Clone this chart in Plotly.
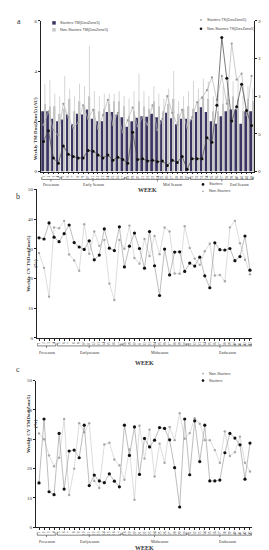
import plotly.graph_objects as go

W, H = 269, 550
weeks = list(range(1, 44))
week_labels = [str(w) for w in weeks]

# Panel a
starters_tm = [2.4, 2.4, 2.1, 2.0, 2.07, 2.27, 1.88, 2.3, 2.27, 2.47, 2.1, 2.0, 2.0, 2.37, 2.37, 2.27, 2.16,
               1.78, 2.0, 2.14, 2.2, 2.18, 2.3, 2.16, 2.04, 2.34, 2.12, 1.88, 2.1, 2.1,
               2.07, 2.37, 2.56, 2.37, 2.0, 1.9, 2.2, 2.4, 2.47, 2.47, 1.9, 2.4, 2.4]
nonstarters_tm = [2.7, 2.6, 2.6, 2.3, 2.5, 2.9, 2.4, 2.8, 2.6, 3.0, 2.5, 2.4, 2.5, 2.7, 2.8, 2.8, 2.6,
                  2.2, 2.4, 2.8, 2.6, 2.5, 2.8, 2.6, 2.4, 2.7, 2.9, 2.3, 2.5, 2.6,
                  2.5, 2.8, 3.0, 2.9, 2.4, 2.4, 2.7, 2.9, 3.0, 2.9, 2.4, 2.9, 2.8]
nonstarters_tm_sd = [0.8, 1.05, 0.5, 0.7, 1.3, 0.4, 0.6, 0.7, 0.8, 2.0, 0.7, 0.6, 0.6, 0.4, 0.3, 0.4, 0.4,
                     0.7, 0.8, 1.1, 0.6, 0.5, 0.6, 0.5, 0.5, 0.6, 1.1, 0.5, 0.5, 0.6,
                     1.1, 0.5, 0.7, 0.7, 0.6, 0.7, 0.7, 0.6, 0.6, 0.8, 0.6, 0.5, 0.5]
starters_ts = [62, 80, 55, 48, 90, 72, 58, 65, 88, 70, 82, 57, 75, 95, 62, 78, 52,
               68, 85, 60, 72, 62, 88, 55, 70, 100, 78, 62, 82, 58,
               72, 92, 98, 108, 125, 95, 127, 90, 170, 122, 130, 75, 127]
nonstarters_ts = [40, 54, 18, 11, 34, 23, 20, 18, 18, 28, 27, 22, 18, 22, 15, 19, 16,
                  11, 52, 16, 17, 14, 15, 13, 14, 8, 15, 12, 20, 3,
                  17, 17, 17, 45, 39, 88, 178, 124, 67, 86, 116, 81, 61]

# Panel b: weekly CV TS (%)
b_starters = [33.7, 33.3, 38.7, 33.9, 32.4, 35.1, 38.0, 32.1, 30.6, 29.8, 32.7, 26.3, 27.9, 36.7, 30.2, 29.4, 37.4,
              23.9, 30.9, 35.3, 30.1, 23.5, 35.8, 24.3, 14.3, 29.9, 21.2, 28.9, 29.0, 22.4,
              25.2, 24.2, 27.2, 20.9, 16.9, 32.0, 29.7, 29.6, 30.1, 26.0, 27.4, 34.3, 22.8]
b_nonstarters = [28.6, 23.6, 13.9, 37.2, 36.9, 39.4, 28.1, 26.1, 22.6, 38.3, 28.3, 35.8, 31.0, 33.0, 18.3, 12.8, 33.0,
                 30.0, 37.8, 26.9, 25.0, 33.3, 27.6, 34.3, 28.2, 37.2, 35.8, 21.7, 21.6, 37.6,
                 30.3, 26.7, 24.6, 29.2, 31.7, 21.0, 21.2, 19.1, 37.2, 39.4, 31.9, 26.3, 21.4]

# Panel c: weekly CV TM (%)
c_starters = [15.1, 36.9, 12.1, 11.1, 32.0, 13.0, 26.0, 26.3, 23.7, 34.8, 14.2, 17.8, 15.8, 15.2, 18.2, 15.7, 13.8,
              34.8, 24.5, 34.2, 18.0, 30.3, 27.4, 29.7, 34.0, 33.7, 29.8, 20.3, 6.9, 36.9,
              17.9, 36.3, 22.4, 34.8, 15.8, 15.8, 16.1, 25.4, 32.0, 30.4, 28.1, 16.4, 28.7]
c_nonstarters = [32.0, 30.0, 24.5, 20.8, 23.7, 36.9, 11.0, 20.0, 35.5, 32.4, 35.5, 15.8, 13.4, 28.2, 28.8, 23.1, 21.1,
                 16.2, 26.5, 9.4, 34.6, 23.4, 33.3, 17.3, 28.5, 22.0, 34.2, 29.7, 38.9, 30.2,
                 32.1, 37.2, 35.3, 29.7, 29.7, 26.3, 22.0, 32.7, 24.3, 25.6, 30.9, 22.0, 19.0]

phases = [(1, 4), (5, 17), (18, 30), (31, 43)]
phase_names_a = ["Preseason", "Early Season", "Mid Season", "End Season"]
phase_label_pos_a = [2.5, 11, 27, 40.5]
phase_names_bc = ["Preseason", "Earlyseason", "Midseason", "Endseason"]
phase_label_pos_bc = [2.5, 11, 25, 38.5]

DARK = "#3b3463"
LGREY = "#c6c6c6"
SERIF = "Liberation Serif"
SANS = "Liberation Sans"


def px_x(x):
    return x / W


def px_y(y):
    return 1 - y / H


fig = go.Figure()

# ---- Panel a ----
fig.add_trace(go.Bar(x=weeks, y=starters_tm, width=0.55, offset=-0.45, marker_color=DARK,
                     marker_line_width=0, xaxis="x", yaxis="y", showlegend=False))
fig.add_trace(go.Bar(x=weeks, y=nonstarters_tm, width=0.32, offset=0.12, marker_color=LGREY,
                     marker_line_width=0, xaxis="x", yaxis="y", showlegend=False,
                     error_y=dict(type="data", array=nonstarters_tm_sd, symmetric=False,
                                  arrayminus=[0] * 43, color="#b8b8b8", thickness=0.6, width=0)))
fig.add_trace(go.Scatter(x=weeks, y=starters_ts, mode="lines+markers", xaxis="x", yaxis="y2",
                         line=dict(color="#b5b5b5", width=0.7),
                         marker=dict(color="#9a9a9a", size=2.2), showlegend=False))
fig.add_trace(go.Scatter(x=weeks, y=nonstarters_ts, mode="lines+markers", xaxis="x", yaxis="y2",
                         line=dict(color="#444444", width=0.7),
                         marker=dict(color="#111111", size=3), showlegend=False))

# ---- Panel b ----
fig.add_trace(go.Scatter(x=weeks, y=b_nonstarters, mode="lines+markers", xaxis="x2", yaxis="y3",
                         line=dict(color="#cfcfcf", width=0.7),
                         marker=dict(color="#a8a8a8", size=2.4), showlegend=False))
fig.add_trace(go.Scatter(x=weeks, y=b_starters, mode="lines+markers", xaxis="x2", yaxis="y3",
                         line=dict(color="#a0a0a0", width=0.7),
                         marker=dict(color="#111111", size=3.2), showlegend=False))

# ---- Panel c ----
fig.add_trace(go.Scatter(x=weeks, y=c_nonstarters, mode="lines+markers", xaxis="x3", yaxis="y4",
                         line=dict(color="#cfcfcf", width=0.7),
                         marker=dict(color="#a8a8a8", size=2.4), showlegend=False))
fig.add_trace(go.Scatter(x=weeks, y=c_starters, mode="lines+markers", xaxis="x3", yaxis="y4",
                         line=dict(color="#a0a0a0", width=0.7),
                         marker=dict(color="#111111", size=3.2), showlegend=False))

axcommon = dict(showline=True, linecolor="#222", linewidth=0.8, ticks="outside", ticklen=2,
                tickwidth=0.6, tickcolor="#222", showgrid=False, zeroline=False)
xcommon = dict(axcommon, tickvals=weeks, ticktext=week_labels, tickangle=-90,
               tickfont=dict(size=3.5, family=SERIF, color="#333"))
ycommon = dict(axcommon, tickfont=dict(size=5, family=SERIF, color="#333"))

fig.update_layout(
    width=W, height=H, autosize=False,
    margin=dict(l=0, r=0, t=0, b=0),
    paper_bgcolor="white", plot_bgcolor="white",
    barmode="overlay",
    xaxis=dict(xcommon, domain=[px_x(33), px_x(246)], range=[0.5, 43.5], anchor="y"),
    yaxis=dict(ycommon, domain=[px_y(163), px_y(11)], range=[0, 6], tickvals=[0, 2, 4, 6], anchor="x"),
    yaxis2=dict(ycommon, overlaying="y", side="right", anchor="x", range=[0, 200],
                tickvals=[0, 50, 100, 150, 200]),
    xaxis2=dict(xcommon, domain=[px_x(29), px_x(244)], range=[0.6, 43.4], anchor="y3"),
    yaxis3=dict(ycommon, domain=[px_y(331), px_y(181)], range=[0, 50], tickvals=[0, 10, 20, 30, 40, 50],
                anchor="x2"),
    xaxis3=dict(xcommon, domain=[px_x(28), px_x(244)], range=[0.4, 43.4], anchor="y4"),
    yaxis4=dict(ycommon, domain=[px_y(522), px_y(374)], range=[0, 50], tickvals=[0, 10, 20, 30, 40, 50],
                anchor="x3"),
)

shapes = []
annotations = []


def brackets(xref, axis_px, names, label_pos, label_off, week_off):
    ybr = axis_px + 8
    for (s, e), name, lx in zip(phases, names, label_pos):
        x0, x1 = s - 0.35, e + 0.35
        shapes.append(dict(type="line", xref=xref, yref="paper", x0=x0, x1=x1,
                           y0=px_y(ybr), y1=px_y(ybr), line=dict(color="#333", width=0.6)))
        for xx in (x0, x1):
            shapes.append(dict(type="line", xref=xref, yref="paper", x0=xx, x1=xx,
                               y0=px_y(ybr), y1=px_y(ybr - 2.5), line=dict(color="#333", width=0.6)))
        xm = (s + e) / 2
        shapes.append(dict(type="line", xref=xref, yref="paper", x0=xm, x1=xm,
                           y0=px_y(ybr), y1=px_y(ybr + 2), line=dict(color="#333", width=0.6)))
        annotations.append(dict(x=lx, y=px_y(axis_px + label_off), xref=xref, yref="paper",
                                text=name, showarrow=False, yanchor="middle", borderpad=0,
                                font=dict(size=4, family=SERIF, color="#333")))
    annotations.append(dict(x=22, y=px_y(axis_px + week_off), xref=xref, yref="paper",
                            text="<b>WEEK</b>", showarrow=False, yanchor="middle", borderpad=0,
                            font=dict(size=6, family=SERIF, color="#333")))


brackets("x", 163, phase_names_a, phase_label_pos_a, 13, 19)
brackets("x2", 331, phase_names_bc, phase_label_pos_bc, 15, 25)
brackets("x3", 522, phase_names_bc, phase_label_pos_bc, 14, 21)

# panel letters
for txt, x, y in [("a", 8, 6), ("b", 7, 188), ("c", 7, 368)]:
    annotations.append(dict(x=px_x(x), y=px_y(y), xref="paper", yref="paper", text=txt,
                            showarrow=False, borderpad=0, font=dict(size=8, family=SERIF, color="#333")))

# axis titles
for txt, x, y in [("<b>Weekly TM Dos(Zone5) (AU)</b>", 24, 87),
                  ("<b>Weekly TS Dos(Zone5) (AU)</b>", 261, 87),
                  ("<b>Weekly CV TSDos(Zone5)</b><br><b>(%)</b>", 17, 256),
                  ("<b>Weekly CV TMDos(Zone5)</b><br><b>(%)</b>", 17, 448)]:
    annotations.append(dict(x=px_x(x), y=px_y(y), xref="paper", yref="paper", text=txt,
                            textangle=-90, showarrow=False, borderpad=0,
                            font=dict(size=5, family=SERIF, color="#333")))


def legend_item(x, y, txt, kind, color, size):
    cx, cy = px_x(x), px_y(y)
    hw, hh = size / 2 / W, size / 2 / H
    shapes.append(dict(type="rect" if kind == "sq" else "circle", xref="paper", yref="paper",
                       x0=cx - hw, x1=cx + hw, y0=cy - hh, y1=cy + hh,
                       fillcolor=color, line=dict(width=0)))
    annotations.append(dict(x=px_x(x + 5), y=cy, xref="paper", yref="paper", text=txt,
                            xanchor="left", yanchor="middle", showarrow=False, borderpad=0,
                            font=dict(size=3.8, family=SANS, color="#444")))


legend_item(46, 13, "Starters TM(DosZone5)", "sq", DARK, 3.5)
legend_item(46, 20, "Non-Starters TM(DosZone5)", "sq", LGREY, 3.5)
legend_item(193, 10, "Starters TS(DosZone5)", "ci", "#9a9a9a", 1.8)
legend_item(193, 19, "Non-Starters TS(DosZone5)", "ci", "#111", 2.6)
legend_item(195, 176, "Starters", "ci", "#111", 2.6)
legend_item(195, 183, "Non-Starters", "ci", "#a8a8a8", 1.8)
legend_item(195, 367, "Non-Starters", "ci", "#a8a8a8", 1.8)
legend_item(195, 374, "Starters", "ci", "#111", 2.6)

fig.update_layout(shapes=shapes, annotations=annotations)
fig.write_html("out.html")
